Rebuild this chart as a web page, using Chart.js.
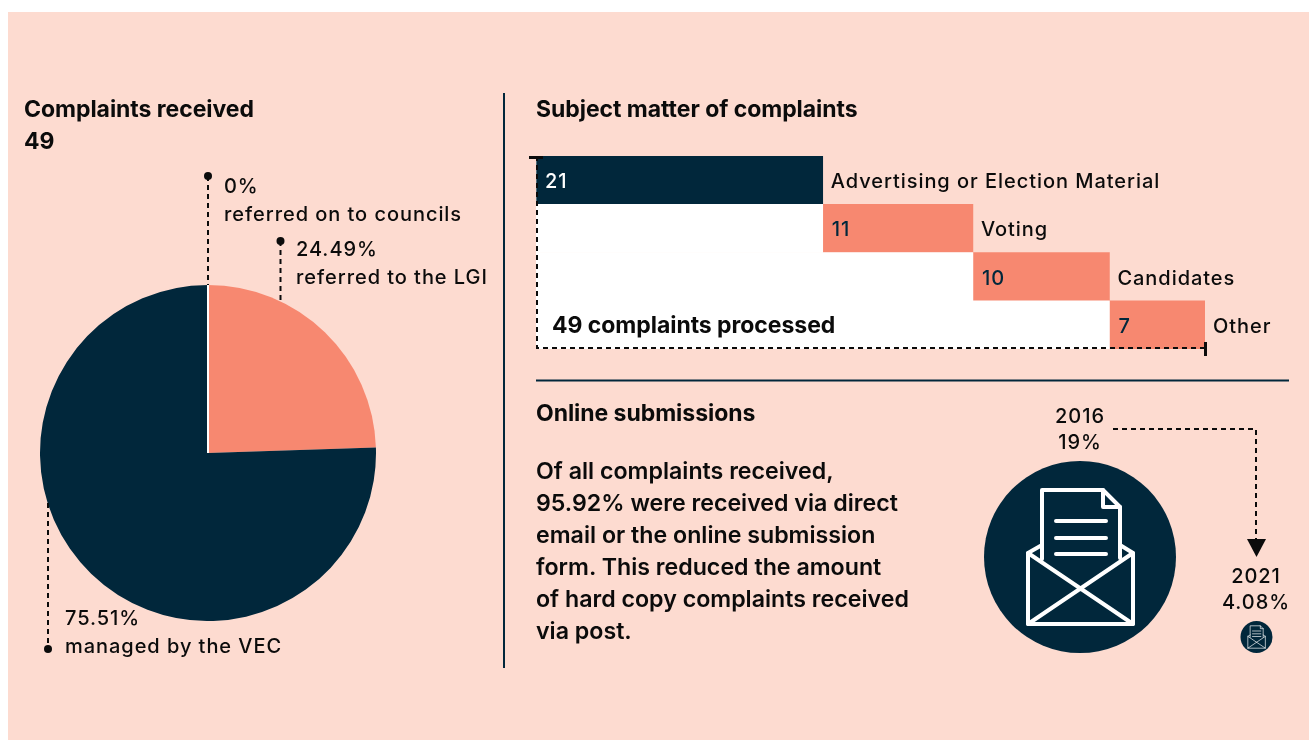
<!DOCTYPE html>
<html>
<head>
<meta charset="utf-8">
<title>Complaints received</title>
<script src="https://cdn.jsdelivr.net/npm/chart.js@4"></script>
<style>
  body { margin: 0; background: #fff; }
  #page { position: relative; width: 1309px; height: 740px; overflow: hidden; font-family: Inter, sans-serif; color: #0b0b0b; }
  #panel { position: absolute; left: 8px; top: 12px; right: 0; bottom: 0; background: #fddbd0; }
  canvas { position: absolute; }
  svg { position: absolute; left: 0; top: 0; }
  .t { position: absolute; white-space: nowrap; }
  .head { font-size: 23px; font-weight: 700; line-height: 32px; letter-spacing: -0.05px; }
  .body { font-size: 23.2px; font-weight: 600; line-height: 32px; }
  .note { font-size: 20px; font-weight: 500; line-height: 28px; letter-spacing: 0.95px; }
  .center { text-align: center; transform: translateX(-50%); line-height: 26px; }
</style>
</head>
<body>
<div id="page">
  <div id="panel"></div>
  <canvas id="pieChart" width="336" height="336" style="left:40px;top:285px"></canvas>
  <canvas id="barChart" width="780" height="210" style="left:520px;top:150px"></canvas>

  <svg width="1309" height="740">
    <defs>
      <g id="mail" fill="none" stroke="#fff" stroke-width="4" stroke-linejoin="round" stroke-linecap="round">
        <path d="M1042 559V490H1103L1120 507V558"/>
        <path d="M1103 490V507H1120"/>
        <path d="M1056 521H1106M1056 538H1106M1056 554H1106"/>
        <path d="M1042 545L1028 553V624H1133V553L1120 545"/>
        <path d="M1028 553L1133 624M1133 553L1028 624"/>
      </g>
    </defs>
    <g fill="none" stroke="#01273b" stroke-width="2">
      <path d="M504 93V668"/>
      <path d="M536 380.5H1289"/>
    </g>
    <g fill="none" stroke="#0b0b0b" stroke-width="2" stroke-dasharray="5 4">
      <path d="M208 176V285"/>
      <path d="M280.5 241V301"/>
      <path d="M48 503V649"/>
      <path d="M1113 429H1256V541"/>
    </g>
    <g fill="#0b0b0b">
      <circle cx="208" cy="176" r="4"/>
      <circle cx="280.5" cy="241" r="4"/>
      <circle cx="48" cy="649" r="4"/>
      <path d="M1247 539H1266L1256.5 557Z"/>
    </g>
    <circle cx="1080" cy="557" r="96" fill="#01273b"/>
    <use href="#mail"/>
    <circle cx="1256.500" cy="637" r="16" fill="#01273b"/>
    <use href="#mail" transform="translate(1256.5 637) scale(.167) translate(-1080 -557)"/>
  </svg>

  <div class="t head" style="left:24px;top:93px">Complaints received<br>49</div>
  <div class="t note" style="left:224px;top:172px">0%<br>referred on to councils</div>
  <div class="t note" style="left:296px;top:235px">24.49%<br>referred to the LGI</div>
  <div class="t note" style="left:65px;top:604px">75.51%<br>managed by the VEC</div>
  <div class="t head" style="left:536px;top:93px">Subject matter of complaints</div>
  <div class="t head" style="left:552px;top:309px">49 complaints processed</div>
  <div class="t head" style="left:536px;top:397px">Online submissions</div>
  <div class="t body" style="left:536px;top:454.5px">Of all complaints received,<br>95.92% were received via direct<br>email or the online submission<br>form. This reduced the amount<br>of hard copy complaints received<br>via post.</div>
  <div class="t note center" style="left:1080px;top:403px">2016<br>19%</div>
  <div class="t note center" style="left:1256px;top:563px">2021<br>4.08%</div>
</div>

<script>
// Pie data
const pieLabels = ['referred on to councils', 'referred to the LGI', 'managed by the VEC'];
const pieValues = [0, 24.49, 75.51];
const pieColors = ['#ffffff', '#f78870', '#01273b'];

// Bar data
const subjects = ['Advertising or Election Material', 'Voting', 'Candidates', 'Other'];
const subjectCounts = [21, 11, 10, 7];
const subjectOffsets = [0, 21, 32, 42];
const subjectTotal = 49;
const barColors = ['#01273b', '#f78870', '#f78870', '#f78870'];
const valueColors = ['#ffffff', '#01273b', '#01273b', '#01273b'];

// White divider where the empty 0% slice sits
const zeroSlicePlugin = {
  id: 'zeroSlice',
  afterDatasetsDraw(chart) {
    const ctx = chart.ctx;
    chart.getDatasetMeta(0).data.forEach((arc, i) => {
      if (pieValues[i] !== 0) return;
      ctx.save();
      ctx.strokeStyle = '#ffffff';
      ctx.lineWidth = 2;
      ctx.beginPath();
      ctx.moveTo(arc.x, arc.y);
      ctx.lineTo(arc.x + Math.cos(arc.startAngle) * arc.outerRadius, arc.y + Math.sin(arc.startAngle) * arc.outerRadius);
      ctx.stroke();
      ctx.restore();
    });
  }
};

new Chart(document.getElementById('pieChart').getContext('2d'), {
  type: 'pie',
  data: {
    labels: pieLabels,
    datasets: [{ data: pieValues, backgroundColor: pieColors, borderWidth: 0 }]
  },
  options: {
    responsive: false,
    animation: false,
    plugins: { legend: { display: false }, tooltip: { enabled: false } }
  },
  plugins: [zeroSlicePlugin]
});

// Values inside the bars, names after them, dashed frame with end ticks
const barExtrasPlugin = {
  id: 'barExtras',
  afterDatasetsDraw(chart) {
    const ctx = chart.ctx;
    const area = chart.chartArea;
    const bars = chart.getDatasetMeta(1).data;

    ctx.save();
    ctx.textBaseline = 'middle';
    ctx.letterSpacing = '0.95px';
    ctx.font = '500 20px Inter, sans-serif';
    bars.forEach((bar, i) => {
      ctx.fillStyle = valueColors[i];
      ctx.fillText(subjectCounts[i], bar.base + 9, bar.y + 2);
      ctx.fillStyle = '#0b0b0b';
      ctx.fillText(subjects[i], bar.x + 8, bar.y + 2);
    });

    ctx.strokeStyle = '#0b0b0b';
    ctx.lineWidth = 2;
    ctx.setLineDash([5, 4]);
    ctx.beginPath();
    ctx.moveTo(area.left + 1, area.top);
    ctx.lineTo(area.left + 1, area.bottom - 1);
    ctx.lineTo(area.right, area.bottom - 1);
    ctx.stroke();

    ctx.fillStyle = '#0b0b0b';
    ctx.fillRect(area.left - 7, area.top, 14, 3);
    ctx.fillRect(area.right - 1, area.bottom - 7, 3, 14);
    ctx.restore();
  }
};

new Chart(document.getElementById('barChart').getContext('2d'), {
  type: 'bar',
  data: {
    labels: subjects,
    datasets: [
      { label: 'offset', data: subjectOffsets, backgroundColor: '#ffffff' },
      { label: 'complaints', data: subjectCounts, backgroundColor: barColors }
    ]
  },
  options: {
    indexAxis: 'y',
    responsive: false,
    animation: false,
    layout: { padding: { left: 16, top: 6, right: 95, bottom: 11 } },
    datasets: { bar: { barPercentage: 1, categoryPercentage: 1 } },
    scales: {
      x: { stacked: true, display: false, min: 0, max: subjectTotal },
      y: { stacked: true, display: false }
    },
    plugins: { legend: { display: false }, tooltip: { enabled: false } }
  },
  plugins: [barExtrasPlugin]
});
</script>
</body>
</html>
